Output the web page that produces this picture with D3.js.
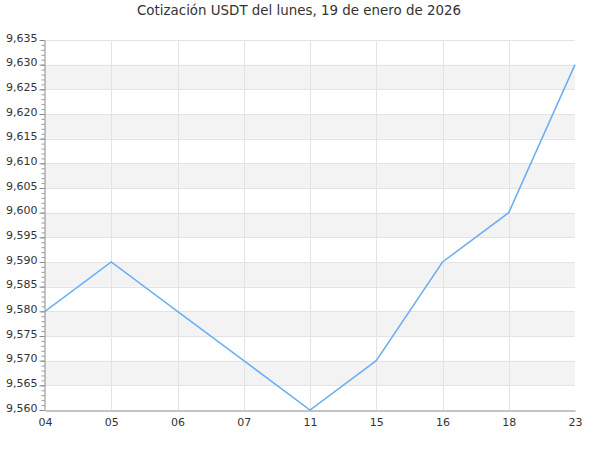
<!DOCTYPE html>
<html>
<head>
<meta charset="utf-8">
<script src="https://cdn.jsdelivr.net/npm/d3@7"></script>
<style>
  body { margin: 0; background: #fff; }
  svg text { font-family: "DejaVu Sans", sans-serif; fill: #333; }
</style>
</head>
<body>
<svg id="chart" width="600" height="450"></svg>
<script>
/* Data */
var categories = ["04", "05", "06", "07", "11", "15", "16", "18", "23"];
var values = [9.580, 9.590, 9.580, 9.570, 9.560, 9.570, 9.590, 9.600, 9.630];
var yTicks = [9.560, 9.565, 9.570, 9.575, 9.580, 9.585, 9.590, 9.595, 9.600, 9.605, 9.610, 9.615, 9.620, 9.625, 9.630, 9.635];
var title = "Cotización USDT del lunes, 19 de enero de 2026";

var svg = d3.select("#chart"),
    margin = {top: 40, right: 25, bottom: 40, left: 45},
    width = +svg.attr("width") - margin.left - margin.right,
    height = +svg.attr("height") - margin.top - margin.bottom;

var x = d3.scalePoint().domain(categories).range([0, width]);
var y = d3.scaleLinear().domain([9.560, 9.635]).range([height, 0]);

var fmt = function(d) { return d3.format(".3f")(d).replace(".", ","); };

svg.append("text")
    .attr("x", 299)
    .attr("y", 15)
    .attr("text-anchor", "middle")
    .style("font-size", "13.4px")
    .text(title);

var g = svg.append("g").attr("transform", "translate(" + margin.left + "," + margin.top + ")");

// alternating bands
for (var i = 1; i < yTicks.length - 1; i += 2) {
  g.append("rect")
      .attr("x", 0)
      .attr("width", width)
      .attr("y", y(yTicks[i + 1]))
      .attr("height", y(yTicks[i]) - y(yTicks[i + 1]))
      .attr("fill", "#f3f3f3");
}

// horizontal grid
g.selectAll("line.hgrid")
    .data(yTicks.slice(1))
    .enter().append("line")
    .attr("class", "hgrid")
    .attr("x1", 0).attr("x2", width)
    .attr("y1", function(d) { return Math.round(y(d)) + 0.5; })
    .attr("y2", function(d) { return Math.round(y(d)) + 0.5; })
    .attr("stroke", "#e3e3e3");

// vertical grid
g.selectAll("line.vgrid")
    .data(categories.slice(1, -1))
    .enter().append("line")
    .attr("class", "vgrid")
    .attr("y1", 0).attr("y2", height)
    .attr("x1", function(d) { return Math.round(x(d)) + 0.5; })
    .attr("x2", function(d) { return Math.round(x(d)) + 0.5; })
    .attr("stroke", "#e3e3e3");

// y axis with minor ticks
var minor = d3.range(9.560, 9.6351, 0.001);
g.append("g")
    .attr("transform", "translate(-0.5,0)")
    .call(d3.axisLeft(y).tickValues(minor).tickSize(3).tickFormat(""))
    .call(function(s) { s.select(".domain").remove(); s.selectAll("line").attr("stroke", "#999"); });

var yAxis = g.append("g")
    .attr("transform", "translate(-0.5,0)")
    .call(d3.axisLeft(y).tickValues(yTicks).tickSize(5).tickSizeOuter(0).tickPadding(2).tickFormat(fmt));
yAxis.select(".domain").attr("stroke", "#888");
yAxis.selectAll("line").attr("stroke", "#888");
yAxis.selectAll("text").style("font-size", "11px").attr("dy", "0.1em");

// x axis
var xAxis = g.append("g")
    .attr("transform", "translate(0," + (height + 0.5) + ")")
    .call(d3.axisBottom(x).tickSize(0).tickPadding(8));
xAxis.select(".domain").attr("stroke", "#888");
xAxis.selectAll("text").style("font-size", "11px");

// line
var line = d3.line()
    .x(function(d, i) { return x(categories[i]); })
    .y(function(d) { return y(d); });

g.append("path")
    .datum(values)
    .attr("fill", "none")
    .attr("stroke", "#6aaef2")
    .attr("stroke-width", 1.5)
    .attr("d", line);
</script>
</body>
</html>
